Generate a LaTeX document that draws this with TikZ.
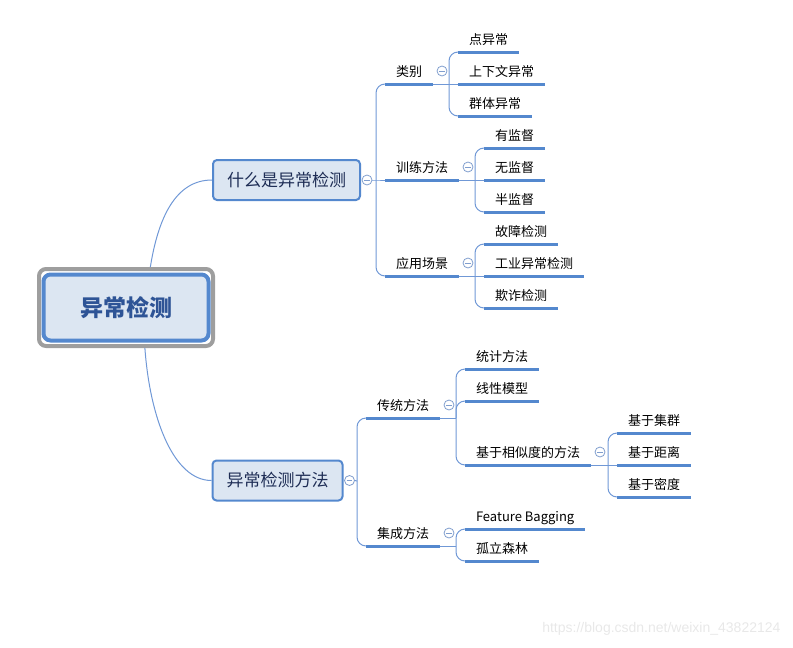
\documentclass[tikz,border=0pt]{standalone}
\usepackage{fontspec}
\setmainfont{Noto Sans CJK SC}
\newfontfamily\markfont{Liberation Sans}
\definecolor{mapblue}{RGB}{84,136,206}
\definecolor{linkblue}{RGB}{112,152,214}
\definecolor{boxfill}{RGB}{220,230,242}
\definecolor{boxtext}{RGB}{30,45,85}
\definecolor{roottext}{RGB}{46,84,150}
\definecolor{foldc}{RGB}{128,158,206}

\begin{document}
\begin{tikzpicture}[x=1pt, y=-1pt,
  topic/.style={draw=mapblue, line width=2pt, fill=boxfill, rounded corners=4pt, inner xsep=14pt, minimum height=40pt, font=\fontsize{17}{20}\selectfont, text=boxtext},
  leaf/.style={anchor=south west, inner xsep=11pt, inner ysep=0pt, outer sep=0pt, text height=10pt, text depth=8pt, font=\fontsize{13}{15}\selectfont},
  fold/.style={circle, draw=foldc, fill=white, line width=0.8pt, minimum size=10pt, inner sep=0pt,
    path picture={\draw[foldc, line width=0.8pt] ([xshift=-2.8pt]path picture bounding box.center) -- ([xshift=2.8pt]path picture bounding box.center);}},
  link/.style={linkblue, line width=1pt},
  spine/.style={linkblue, line width=1pt, rounded corners=9pt},
  uline/.style={mapblue, line width=3pt}]
  \useasboundingbox (0,0) rectangle (793,648);

  % root
  \node[draw=black!38, line width=4pt, rounded corners=7pt, minimum width=174pt, minimum height=77pt] (frame) at (126,307.5) {};
  \node[draw=mapblue, line width=4pt, fill=boxfill, rounded corners=7pt, minimum width=165pt, minimum height=66pt,
    font=\fontsize{23}{26}\selectfont\bfseries, text=roottext] (root) at (126,307.5) {异常检测};

  % first level
  \node[topic] (what) at (286.5,180) {什么是异常检测};
  \node[topic] (meth) at (277.5,480.5) {异常检测方法};
  \draw[link] (frame.59) .. controls +(8,-50) and +(-36,0) .. (what.west);
  \draw[link] (frame.-65) .. controls +(5,70) and +(-38,0) .. (meth.west);
  \node[fold] (fwhat) at ([xshift=6pt]what.east) {};
  \node[fold] (fmeth) at ([xshift=6pt]meth.east) {};

  % second level
  \node[leaf] (kind)  at (385,84)  {类别};
  \node[leaf] (train) at (385,180) {训练方法};
  \node[leaf] (app)   at (385,276) {应用场景};
  \node[leaf] (trad)  at (366,418) {传统方法};
  \node[leaf] (ens)   at (366,546) {集成方法};

  % leaves
  \node[leaf] (pt)    at (458,52)  {点异常};
  \node[leaf] (ctx)   at (458,84)  {上下文异常};
  \node[leaf] (grp)   at (458,116) {群体异常};
  \node[leaf] (sup)   at (484,148) {有监督};
  \node[leaf] (unsup) at (484,180) {无监督};
  \node[leaf] (semi)  at (484,212) {半监督};
  \node[leaf] (fault) at (484,244) {故障检测};
  \node[leaf] (ind)   at (484,276) {工业异常检测};
  \node[leaf] (fraud) at (484,308) {欺诈检测};
  \node[leaf] (stat)  at (465,369) {统计方法};
  \node[leaf] (lin)   at (465,401) {线性模型};
  \node[leaf] (sim)   at (465,465) {基于相似度的方法};
  \node[leaf] (clu)   at (617,433) {基于集群};
  \node[leaf] (dist)  at (617,465) {基于距离};
  \node[leaf] (dens)  at (617,497) {基于密度};
  \node[leaf] (fb)    at (465,529) {Feature Bagging};
  \node[leaf] (iso)   at (465,561) {孤立森林};

  % junctions
  \coordinate (jwhat)  at (376,180);
  \coordinate (jmeth)  at (357,481);
  \coordinate (jkind)  at (449,84);
  \coordinate (jtrain) at (475,180);
  \coordinate (japp)   at (475,276);
  \coordinate (jtrad)  at (456,418);
  \coordinate (jsim)   at (608,465);
  \coordinate (jens)   at (456,546);

  \draw[link] (fwhat.east) -- (jwhat) -- (train.south west);
  \draw[link] (fmeth.east) -- (jmeth);
  \foreach \p/\j in {kind/jkind, train/jtrain, app/japp, trad/jtrad, sim/jsim, ens/jens}
    \draw[link] (\p.south east) -- (\j);
  \foreach \j/\c in {jkind/ctx, jtrain/unsup, japp/ind, jsim/dist}
    \draw[link] (\j) -- (\c.south west);
  \foreach \j/\c in {jwhat/kind, jwhat/app, jmeth/trad, jmeth/ens, jkind/pt, jkind/grp, jtrain/sup, jtrain/semi,
      japp/fault, japp/fraud, jtrad/stat, jtrad/lin, jtrad/sim, jsim/clu, jsim/dens, jens/fb, jens/iso}
    \draw[spine] (\j) |- (\c.south west);

  % underlines
  \foreach \n in {kind, train, app, trad, ens, pt, ctx, grp, sup, unsup, semi, fault, ind, fraud,
      stat, lin, sim, clu, dist, dens, fb, iso}
    \draw[uline] (\n.south west) -- (\n.south east);

  % fold marks
  \foreach \n in {kind, train, app, trad, sim, ens}
    \node[fold] (f\n) at ([xshift=9pt,yshift=13pt]\n.south east) {};

  \node[font=\markfont\fontsize{14}{16}\selectfont, text=black!9, anchor=east] (mark) at (784,629) {https://blog.csdn.net/weixin\_43822124};
\end{tikzpicture}
\end{document}
